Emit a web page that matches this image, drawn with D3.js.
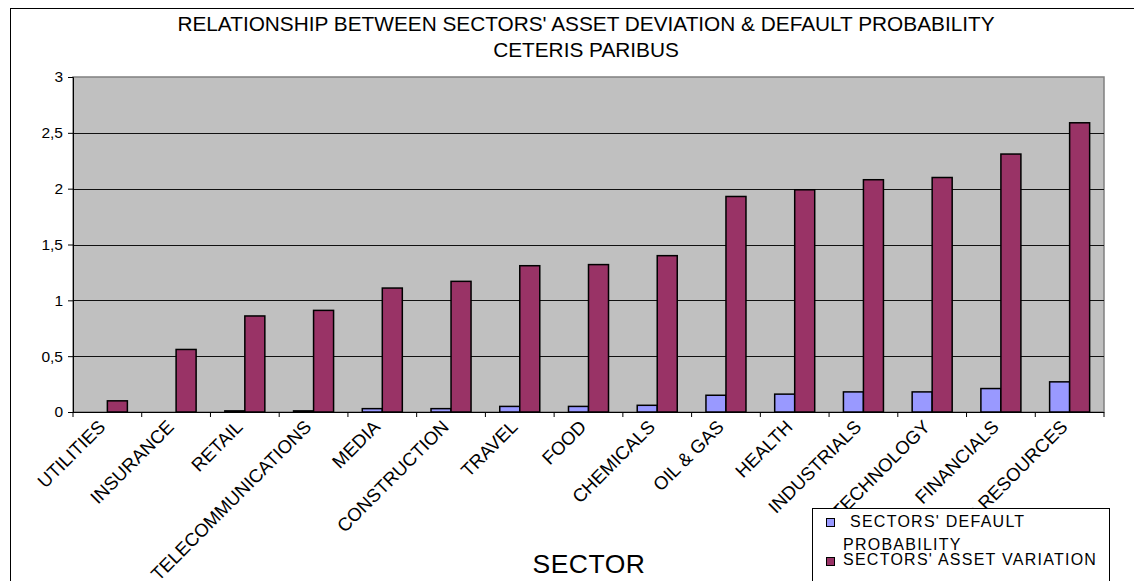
<!DOCTYPE html>
<html>
<head>
<meta charset="utf-8">
<script src="https://cdn.jsdelivr.net/npm/d3@7"></script>
<style>
  html, body { margin: 0; padding: 0; background: #ffffff; }
  svg { display: block; font-family: "Liberation Sans", Arial, sans-serif; }
</style>
</head>
<body>
<svg id="chart" width="1134" height="581"></svg>
<script>
// Sectors along the x axis
const sectors = ["UTILITIES", "INSURANCE", "RETAIL", "TELECOMMUNICATIONS", "MEDIA",
  "CONSTRUCTION", "TRAVEL", "FOOD", "CHEMICALS", "OIL & GAS", "HEALTH",
  "INDUSTRIALS", "TECHNOLOGY", "FINANCIALS", "BASIC RESOURCES"];

// Series values per sector
const defaultProbability = [0, 0, 0.01, 0.01, 0.03, 0.03, 0.05, 0.05, 0.06,
  0.15, 0.16, 0.18, 0.18, 0.21, 0.27];
const assetVariation = [0.10, 0.56, 0.86, 0.91, 1.11, 1.17, 1.31, 1.32, 1.40,
  1.93, 1.99, 2.08, 2.10, 2.31, 2.59];

const seriesNames = ["SECTORS' DEFAULT PROBABILITY", "SECTORS' ASSET VARIATION"];
const yTicks = [0, 0.5, 1, 1.5, 2, 2.5, 3];

const titleLines = ["RELATIONSHIP BETWEEN SECTORS' ASSET DEVIATION & DEFAULT PROBABILITY",
  "CETERIS PARIBUS"];

const colors = ["#9999FF", "#993366"];

const svg = d3.select("#chart");
const plot = { left: 73, right: 1104, top: 77, bottom: 412 };

// Outer chart frame (runs past the page on the right and bottom)
svg.append("rect")
  .attr("x", 10.5).attr("y", 8.5)
  .attr("width", 1200).attr("height", 700)
  .attr("fill", "#ffffff").attr("stroke", "#000").attr("stroke-width", 1);

// Title
svg.append("g").selectAll("text").data(titleLines).join("text")
  .attr("x", 586).attr("y", (d, i) => 31 + i * 26)
  .attr("text-anchor", "middle")
  .attr("font-size", 20.8)
  .attr("fill", "#000")
  .text(d => d);

const x0 = d3.scaleBand().domain(sectors).range([plot.left, plot.right]).paddingInner(0).paddingOuter(0);
const barW = x0.bandwidth() * 20 / 68.7;
const x1 = d3.scaleBand().domain([0, 1]).range([0, barW * 2]);
const groupOffset = (x0.bandwidth() - barW * 2) / 2;
const y = d3.scaleLinear().domain([0, 3]).range([plot.bottom, plot.top]);

// Plot area background
svg.append("rect")
  .attr("x", plot.left).attr("y", plot.top)
  .attr("width", plot.right - plot.left).attr("height", plot.bottom - plot.top)
  .attr("fill", "#C0C0C0").attr("stroke", "#808080").attr("stroke-width", 1.5);

// Horizontal gridlines
svg.append("g").selectAll("line").data(yTicks.filter(t => t > 0 && t < 3)).join("line")
  .attr("x1", plot.left).attr("x2", plot.right)
  .attr("y1", d => Math.round(y(d)) + 0.5).attr("y2", d => Math.round(y(d)) + 0.5)
  .attr("stroke", "#111").attr("stroke-width", 1);

// Bars
const series = [defaultProbability, assetVariation];
const groups = svg.append("g").selectAll("g").data(sectors).join("g")
  .attr("transform", d => `translate(${x0(d) + groupOffset},0)`);
groups.selectAll("rect")
  .data((d, i) => series.map((s, k) => ({ k, v: s[i] })))
  .join("rect")
  .filter(d => d.v > 0)
  .attr("x", d => x1(d.k))
  .attr("width", x1.bandwidth())
  .attr("y", d => y(d.v))
  .attr("height", d => y(0) - y(d.v))
  .attr("fill", d => colors[d.k])
  .attr("stroke", "#000").attr("stroke-width", 1.5);

// Y axis
const yAxis = svg.append("g")
  .attr("transform", `translate(${plot.left},0)`)
  .call(d3.axisLeft(y).tickValues(yTicks).tickSize(5).tickPadding(5)
    .tickFormat(d => String(d).replace(".", ",")));
yAxis.select(".domain").attr("stroke", "#000");
yAxis.selectAll(".tick line").attr("stroke", "#000");
yAxis.selectAll("text").attr("font-size", 15.5).attr("fill", "#000")
  .attr("font-family", "'Liberation Sans', Arial, sans-serif");

// X axis: ticks sit on category boundaries
const boundaries = d3.range(sectors.length + 1).map(i => plot.left + i * x0.step());
const xAxis = svg.append("g");
xAxis.append("line")
  .attr("x1", plot.left).attr("x2", plot.right)
  .attr("y1", plot.bottom + 0.5).attr("y2", plot.bottom + 0.5)
  .attr("stroke", "#000").attr("stroke-width", 1.2);
xAxis.selectAll("line.tk").data(boundaries).join("line").attr("class", "tk")
  .attr("x1", d => d).attr("x2", d => d)
  .attr("y1", plot.bottom).attr("y2", plot.bottom + 5)
  .attr("stroke", "#000");

// Rotated sector labels
svg.append("g").selectAll("text").data(sectors).join("text")
  .attr("transform", d => `translate(${x0(d) + x0.bandwidth() / 2 - 1},${plot.bottom + 16}) rotate(-45)`)
  .attr("text-anchor", "end")
  .attr("font-size", 18.5)
  .attr("fill", "#000")
  .text(d => d);

// Axis title
svg.append("text")
  .attr("x", 589).attr("y", 573)
  .attr("text-anchor", "middle")
  .attr("font-size", 26.5)
  .attr("letter-spacing", 0.5)
  .attr("fill", "#000")
  .text("SECTOR");

// Legend (white box drawn over the lower sector labels)
const legend = svg.append("g");
legend.append("rect")
  .attr("x", 812.5).attr("y", 508.5).attr("width", 297).attr("height", 100)
  .attr("fill", "#fff").attr("stroke", "#000").attr("stroke-width", 1);
legend.append("rect").attr("x", 826.5).attr("y", 518.5).attr("width", 8).attr("height", 8)
  .attr("fill", colors[0]).attr("stroke", "#000").attr("stroke-width", 1);
legend.append("rect").attr("x", 826.5).attr("y", 557.5).attr("width", 8).attr("height", 8)
  .attr("fill", colors[1]).attr("stroke", "#000").attr("stroke-width", 1);
const legendText = legend.append("g").attr("font-size", 16).attr("letter-spacing", 1.25).attr("fill", "#000");
legendText.append("text").attr("x", 850).attr("y", 527).text("SECTORS' DEFAULT");
legendText.append("text").attr("x", 843).attr("y", 550).text("PROBABILITY");
legendText.append("text").attr("x", 843).attr("y", 565).text(seriesNames[1]);
</script>
</body>
</html>
